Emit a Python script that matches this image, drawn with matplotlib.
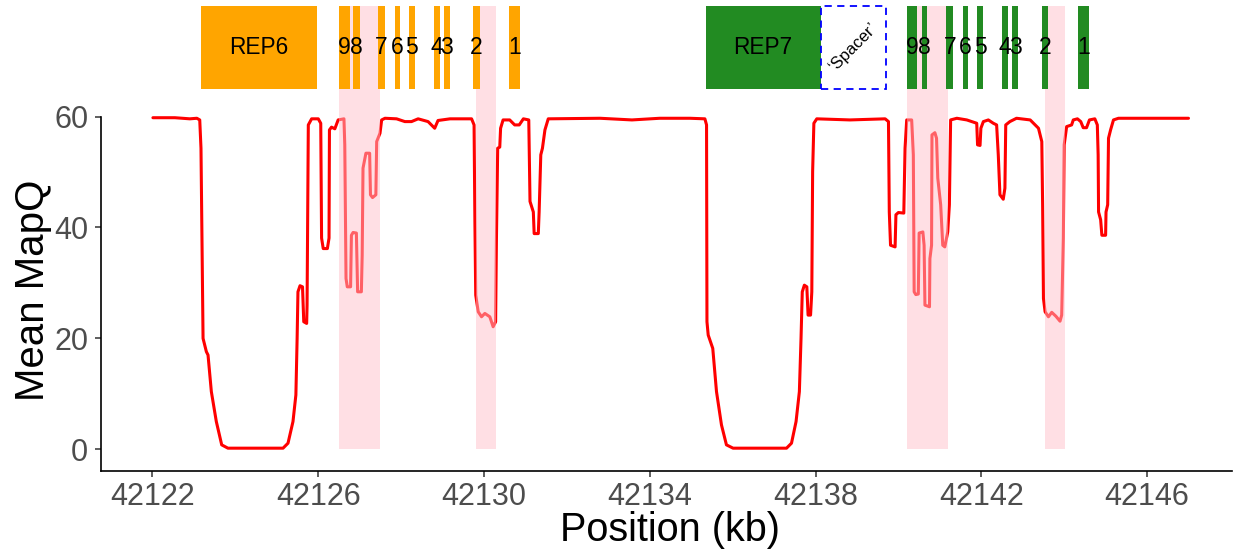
import matplotlib
matplotlib.use("Agg")
from matplotlib import pyplot as plt
from matplotlib.patches import Rectangle

plt.rcParams['font.family'] = ['Liberation Sans', 'DejaVu Sans']

# mean MapQ along the region (kb)
pos_kb = [42122.01, 42122.54, 42122.90, 42123.07, 42123.14, 42123.17, 42123.22, 42123.30,
          42123.34, 42123.42, 42123.54, 42123.67, 42123.82, 42125.15, 42125.27, 42125.39,
          42125.46, 42125.49, 42125.51, 42125.56, 42125.62, 42125.65, 42125.72, 42125.73,
          42125.76, 42125.84, 42126.00, 42126.06, 42126.08, 42126.12, 42126.22, 42126.26,
          42126.27, 42126.32, 42126.40, 42126.48, 42126.62, 42126.64, 42126.67, 42126.70,
          42126.78, 42126.80, 42126.84, 42126.92, 42126.95, 42127.04, 42127.06, 42127.08,
          42127.15, 42127.24, 42127.26, 42127.31, 42127.39, 42127.41, 42127.49, 42127.53,
          42127.61, 42127.89, 42128.09, 42128.25, 42128.41, 42128.65, 42128.81, 42128.89,
          42129.18, 42129.70, 42129.76, 42129.78, 42129.80, 42129.86, 42129.94, 42130.02,
          42130.14, 42130.22, 42130.28, 42130.30, 42130.33, 42130.38, 42130.40, 42130.46,
          42130.62, 42130.74, 42130.85, 42130.95, 42131.08, 42131.11, 42131.19, 42131.21,
          42131.31, 42131.33, 42131.37, 42131.41, 42131.47, 42131.55, 42132.80, 42133.57,
          42134.24, 42134.97, 42135.33, 42135.37, 42135.38, 42135.41, 42135.52, 42135.61,
          42135.73, 42135.85, 42136.01, 42137.30, 42137.42, 42137.53, 42137.61, 42137.65,
          42137.68, 42137.73, 42137.79, 42137.82, 42137.88, 42137.91, 42137.93, 42137.96,
          42138.03, 42138.83, 42139.68, 42139.76, 42139.78, 42139.81, 42139.92, 42139.94,
          42140.00, 42140.13, 42140.16, 42140.20, 42140.32, 42140.36, 42140.38, 42140.42,
          42140.48, 42140.50, 42140.59, 42140.62, 42140.64, 42140.75, 42140.76, 42140.80,
          42140.81, 42140.88, 42140.92, 42140.95, 42141.02, 42141.07, 42141.12, 42141.19,
          42141.23, 42141.26, 42141.41, 42141.65, 42141.89, 42141.91, 42141.97, 42141.99,
          42142.05, 42142.17, 42142.29, 42142.37, 42142.41, 42142.45, 42142.53, 42142.57,
          42142.59, 42142.69, 42142.85, 42143.18, 42143.38, 42143.46, 42143.48, 42143.50,
          42143.54, 42143.62, 42143.70, 42143.80, 42143.90, 42143.94, 42143.98, 42144.00,
          42144.06, 42144.18, 42144.22, 42144.32, 42144.40, 42144.46, 42144.54, 42144.61,
          42144.74, 42144.80, 42144.82, 42144.83, 42144.88, 42144.91, 42145.00, 42145.01,
          42145.05, 42145.07, 42145.12, 42145.19, 42145.31, 42147.00]
mapq = [59.8, 59.8, 59.6, 59.7, 59.4, 54.3, 20.0, 17.6,
        17.0, 10.4, 5.0, 0.8, 0.2, 0.2, 1.1, 5.0,
        9.8, 20.0, 28.4, 29.5, 29.3, 23.0, 22.7, 26.0,
        58.5, 59.6, 59.6, 58.8, 38.1, 36.2, 36.2, 38.1,
        57.6, 58.1, 57.8, 59.4, 59.6, 54.9, 30.8, 29.3,
        29.3, 38.6, 39.1, 39.0, 28.4, 28.4, 35.0, 50.7,
        53.4, 53.4, 45.9, 45.4, 45.9, 55.5, 57.0, 59.4,
        59.7, 59.6, 59.1, 59.1, 59.6, 59.1, 57.9, 59.3,
        59.6, 59.6, 58.5, 41.0, 27.8, 24.8, 23.9, 24.5,
        23.9, 22.1, 23.0, 38.1, 54.3, 54.5, 57.9, 59.4,
        59.4, 58.5, 58.5, 59.6, 59.4, 44.7, 42.8, 38.9,
        38.9, 42.8, 53.1, 54.3, 57.6, 59.6, 59.7, 59.4,
        59.7, 59.7, 59.6, 58.5, 23.0, 20.6, 18.2, 10.4,
        4.4, 0.8, 0.2, 0.2, 1.1, 5.0, 10.4, 20.0,
        28.4, 29.6, 29.3, 24.2, 24.2, 28.4, 50.1, 58.8,
        59.6, 59.4, 59.6, 59.1, 42.8, 36.8, 36.5, 42.3,
        42.7, 42.6, 54.3, 59.4, 59.4, 53.1, 28.4, 27.9,
        28.0, 39.0, 39.2, 36.8, 26.0, 25.7, 34.4, 36.8,
        56.7, 57.1, 56.1, 48.9, 44.1, 36.8, 36.5, 39.2,
        44.1, 59.4, 59.7, 59.4, 58.8, 54.9, 54.8, 57.9,
        59.1, 59.4, 58.8, 58.5, 53.1, 45.9, 45.1, 47.1,
        58.5, 59.1, 59.7, 59.4, 57.9, 55.5, 44.1, 27.2,
        24.8, 23.9, 24.7, 24.0, 23.1, 24.2, 38.1, 54.9,
        58.2, 58.5, 59.4, 59.6, 59.1, 58.0, 58.0, 59.4,
        59.6, 58.5, 53.1, 42.8, 41.4, 38.6, 38.6, 42.8,
        44.1, 56.1, 57.6, 59.4, 59.7, 59.7]

# highlighted windows
hl_start = [42126.50, 42129.80, 42140.21, 42143.53]
hl_end = [42127.50, 42130.30, 42141.20, 42144.01]

# repeat units and exons
rep_names = ["REP6", "REP7"]
rep_start = [42123.18, 42135.35]
rep_end = [42125.97, 42138.12]
rep_colors = ["#FFA500", "#228B22"]
spacer_start, spacer_end = 42138.12, 42139.69

exon_labels = ["9", "8", "7", "6", "5", "4", "3", "2", "1"]
rep6_ex_start = [42126.50, 42126.85, 42127.45, 42127.84, 42128.18, 42128.79, 42129.03, 42129.73, 42130.61]
rep6_ex_end = [42126.76, 42127.00, 42127.61, 42127.98, 42128.34, 42128.93, 42129.18, 42129.90, 42130.88]
rep7_ex_start = [42140.21, 42140.56, 42141.16, 42141.55, 42141.89, 42142.49, 42142.75, 42143.46, 42144.33]
rep7_ex_end = [42140.46, 42140.70, 42141.32, 42141.69, 42142.05, 42142.65, 42142.89, 42143.62, 42144.60]

xticks = [42122, 42126, 42130, 42134, 42138, 42142, 42146]
yticks = [0, 20, 40, 60]

W, H = 1236, 556
fig = plt.figure(figsize=(W / 100, H / 100), dpi=100)
ax = fig.add_axes([100.7 / W, (H - 470.8) / H, (1232 - 100.7) / W, 470.8 / H])

ax.plot(pos_kb, mapq, color="red", lw=2.2, zorder=2,
        solid_joinstyle="round", solid_capstyle="round")

box_lo, box_hi = 65, 80
for s, e in zip(hl_start, hl_end):
    ax.add_patch(Rectangle((s, 0), e - s, box_hi, facecolor="pink", alpha=0.5,
                           edgecolor="none", zorder=3))

for name, s, e, c in zip(rep_names, rep_start, rep_end, rep_colors):
    ax.add_patch(Rectangle((s, box_lo), e - s, box_hi - box_lo, facecolor=c,
                           edgecolor="none", zorder=4))
    ax.text((s + e) / 2, (box_lo + box_hi) / 2, name, ha="center", va="center",
            fontsize=16.3, zorder=5)

ax.add_patch(Rectangle((spacer_start, box_lo), spacer_end - spacer_start, box_hi - box_lo,
                       facecolor="white", edgecolor="blue", linestyle=(0, (4, 3)),
                       lw=1.3, zorder=4))
ax.text((spacer_start + spacer_end) / 2, (box_lo + box_hi) / 2, "\u2018Spacer\u2019",
        rotation=45, ha="center", va="center", fontsize=12, zorder=5)

for starts, ends, c in [(rep6_ex_start, rep6_ex_end, rep_colors[0]),
                        (rep7_ex_start, rep7_ex_end, rep_colors[1])]:
    for lab, s, e in zip(exon_labels, starts, ends):
        ax.add_patch(Rectangle((s, box_lo), e - s, box_hi - box_lo, facecolor=c,
                               edgecolor="none", zorder=4))
        ax.text((s + e) / 2, (box_lo + box_hi) / 2, lab, ha="center", va="center",
                fontsize=16.5, zorder=5)

ax.set_xlim(42120.75, 42148.05)
ax.set_ylim(-3.88, 81.03)
ax.set_xticks(xticks)
ax.set_yticks(yticks)
ax.tick_params(axis="both", labelsize=22, labelcolor="#4D4D4D", color="#333333",
               length=4, width=1.1)
ax.tick_params(axis="x", pad=4)
ax.tick_params(axis="y", pad=5)
for side in ["top", "right"]:
    ax.spines[side].set_visible(False)
for side in ["left", "bottom"]:
    ax.spines[side].set_linewidth(1.2)
ax.spines["left"].set_bounds(-3.88, 60)

fig.text(670 / W, 1 - 530 / H, "Position (kb)", ha="center", va="center", fontsize=28.5)
fig.text(33 / W, 1 - 290 / H, "Mean MapQ", ha="center", va="center", fontsize=29,
         rotation=90)

fig.savefig("out.png", dpi=100)
